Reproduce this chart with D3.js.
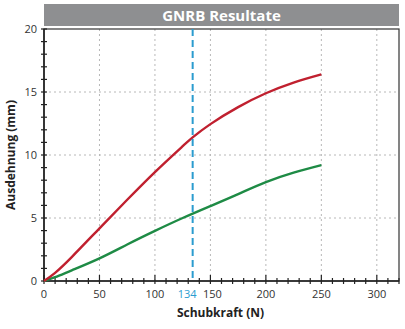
<!DOCTYPE html>
<html>
<head>
<meta charset="utf-8">
<script src="https://cdn.jsdelivr.net/npm/d3@7"></script>
<style>
  html, body { margin: 0; padding: 0; background: #fff; }
  svg { display: block; font-family: "Open Sans", "Noto Sans", sans-serif; }
</style>
</head>
<body>
<svg id="chart" width="405" height="329"></svg>
<script>
// Measured extension (mm) against shear force (N)
const redForces = [0, 10, 25, 50, 75, 100, 125, 134, 150, 175, 200, 225, 250];
const redValues = [0, 0.65, 1.9, 4.18, 6.45, 8.65, 10.7, 11.4, 12.45, 13.8, 14.9, 15.75, 16.4];
const greenForces = [0, 10, 25, 50, 75, 100, 125, 150, 175, 200, 225, 250];
const greenValues = [0, 0.3, 0.85, 1.8, 2.9, 3.98, 5.0, 5.95, 6.9, 7.85, 8.6, 9.2];
const markedForce = 134;
const xTicks = [0, 50, 100, 150, 200, 250, 300];
const yTicks = [0, 5, 10, 15, 20];
const titleText = "GNRB Resultate";
const xTitle = "Schubkraft (N)";
const yTitle = "Ausdehnung (mm)";

const svg = d3.select("#chart");
const margin = { left: 44, right: 6, top: 29, bottom: 48 };
const W = 405, H = 329;
const x = d3.scaleLinear().domain([0, 320]).range([margin.left, W - margin.right]);
const y = d3.scaleLinear().domain([0, 20]).range([H - margin.bottom, margin.top]);

// title band
svg.append("rect")
  .attr("x", margin.left).attr("y", 4)
  .attr("width", W - margin.right - margin.left).attr("height", 22)
  .attr("fill", "#8e8f91");
svg.append("text")
  .attr("x", (margin.left + W - margin.right) / 2).attr("y", 21)
  .attr("text-anchor", "middle").attr("fill", "#fff")
  .attr("font-size", 15).attr("font-weight", "bold")
  .text(titleText);

// dotted grid
const grid = svg.append("g").attr("stroke", "#b8b8b8").attr("stroke-width", 1)
  .attr("stroke-dasharray", "2,3");
grid.selectAll("line.gx").data(xTicks.filter(d => d > 0)).join("line")
  .attr("x1", d => x(d)).attr("x2", d => x(d))
  .attr("y1", y(0)).attr("y2", y(20));
grid.selectAll("line.gy").data(yTicks.filter(d => d > 0 && d < 20)).join("line")
  .attr("y1", d => y(d)).attr("y2", d => y(d))
  .attr("x1", x(0)).attr("x2", x(320));

// frame
svg.append("rect")
  .attr("x", x(0)).attr("y", y(20))
  .attr("width", x(320) - x(0)).attr("height", y(0) - y(20))
  .attr("fill", "none").attr("stroke", "#333").attr("stroke-width", 1.2);

// minor ticks crossing the axes
const tickG = svg.append("g").attr("stroke", "#222").attr("stroke-width", 1.2);
tickG.selectAll("line.mx").data(d3.range(0, 321, 10)).join("line")
  .attr("x1", d => x(d)).attr("x2", d => x(d))
  .attr("y1", d => y(0) - (d % 50 === 0 ? 6 : 3)).attr("y2", y(0) + 3);
tickG.selectAll("line.my").data(d3.range(0, 21, 1)).join("line")
  .attr("y1", d => y(d)).attr("y2", d => y(d))
  .attr("x1", x(0) - 3).attr("x2", x(0) + 3);

// axis lines
svg.append("line").attr("x1", x(0)).attr("x2", x(320)).attr("y1", y(0)).attr("y2", y(0))
  .attr("stroke", "#222").attr("stroke-width", 1.6);
svg.append("line").attr("x1", x(0)).attr("x2", x(0)).attr("y1", y(0)).attr("y2", y(20))
  .attr("stroke", "#222").attr("stroke-width", 1.6);

// tick labels
svg.append("g").selectAll("text").data(xTicks).join("text")
  .attr("x", d => x(d) + (d === 150 ? 2 : 0)).attr("y", y(0) + 17)
  .attr("text-anchor", "middle").attr("font-size", 11).attr("fill", "#333")
  .text(d => d);
svg.append("g").selectAll("text").data(yTicks).join("text")
  .attr("x", x(0) - 7).attr("y", d => y(d) + 4)
  .attr("text-anchor", "end").attr("font-size", 11).attr("fill", "#333")
  .text(d => d);
svg.append("text")
  .attr("x", x(markedForce) + 4).attr("y", y(0) + 17)
  .attr("text-anchor", "end").attr("font-size", 11).attr("fill", "#2b9ccf")
  .text(markedForce);

// axis titles
svg.append("text")
  .attr("x", (x(0) + x(320)) / 2 - 1).attr("y", 317)
  .attr("text-anchor", "middle").attr("font-size", 12).attr("font-weight", "bold")
  .attr("fill", "#222").text(xTitle);
svg.append("text")
  .attr("transform", `translate(15,${(y(0) + y(20)) / 2}) rotate(-90)`)
  .attr("text-anchor", "middle").attr("font-size", 12).attr("font-weight", "bold")
  .attr("fill", "#222").text(yTitle);

// curves
const line = d3.line().x(d => x(d[0])).y(d => y(d[1])).curve(d3.curveNatural);
svg.append("path").datum(d3.zip(greenForces, greenValues))
  .attr("d", line).attr("fill", "none").attr("stroke", "#1e8b45").attr("stroke-width", 2.4);
svg.append("path").datum(d3.zip(redForces, redValues))
  .attr("d", line).attr("fill", "none").attr("stroke", "#c0202f").attr("stroke-width", 2.4);

// marked force
svg.append("line")
  .attr("x1", x(markedForce)).attr("x2", x(markedForce))
  .attr("y1", y(20)).attr("y2", y(0))
  .attr("stroke", "#2b9ccf").attr("stroke-width", 2).attr("stroke-dasharray", "7,4");
</script>
</body>
</html>
